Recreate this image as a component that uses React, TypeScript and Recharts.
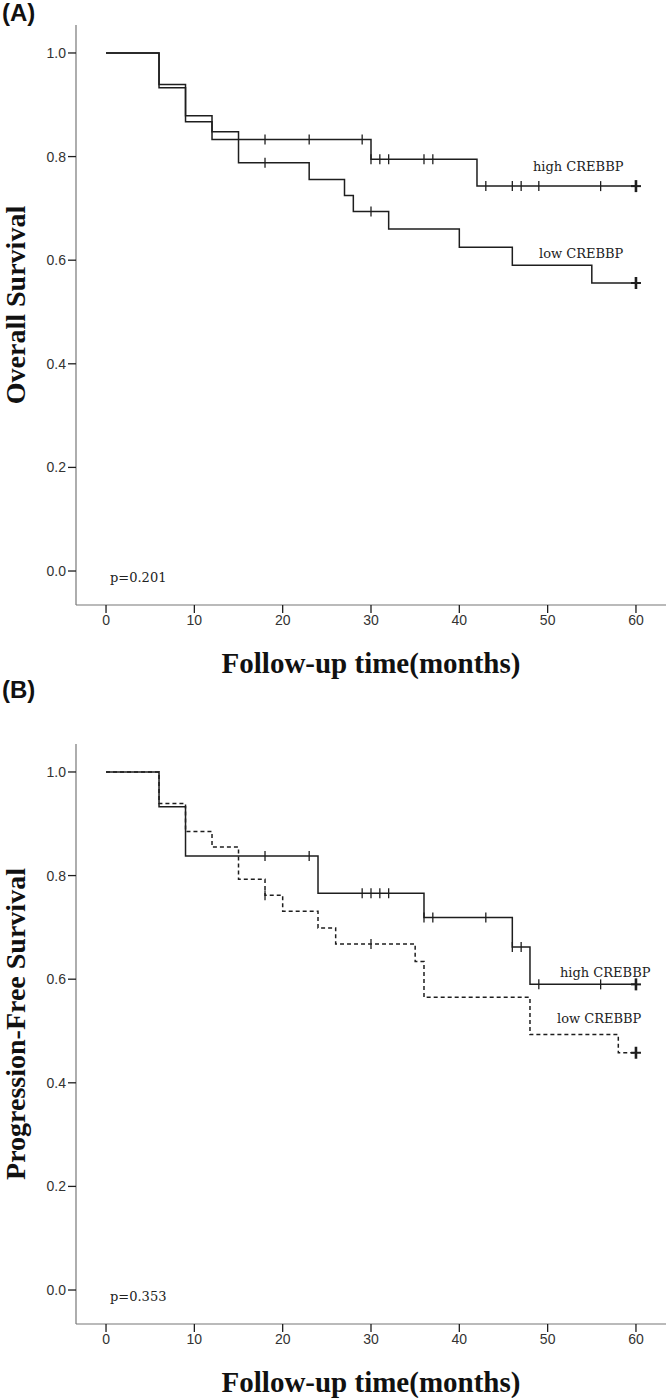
import React from "react";
import {
  ComposedChart,
  Line,
  Scatter,
  XAxis,
  YAxis,
} from "recharts";

// ---- data (months, survival proportion) ----
const X_TICKS = [0, 10, 20, 30, 40, 50, 60];
const Y_TICKS = [0, 0.2, 0.4, 0.6, 0.8, 1.0];
const END_MONTH = 60;

// (A) overall survival
const OS_HIGH_T = [0, 6, 9, 12, 30, 42];
const OS_HIGH_S = [1, 0.933, 0.867, 0.833, 0.795, 0.743];
const OS_HIGH_CENSOR = [18, 23, 29, 30, 31, 32, 36, 37, 43, 46, 47, 49, 56, 60, 60, 60];

const OS_LOW_T = [0, 6, 9, 12, 15, 23, 27, 28, 32, 40, 46, 55];
const OS_LOW_S = [1, 0.939, 0.879, 0.848, 0.788, 0.756, 0.725, 0.694, 0.66, 0.625, 0.59, 0.556];
const OS_LOW_CENSOR = [18, 30, 60, 60, 60];

// (B) progression-free survival
const PFS_HIGH_T = [0, 6, 9, 24, 36, 46, 48];
const PFS_HIGH_S = [1, 0.933, 0.838, 0.766, 0.719, 0.662, 0.59];
const PFS_HIGH_CENSOR = [18, 23, 29, 30, 31, 32, 36, 37, 43, 46, 47, 49, 56, 60, 60, 60];

const PFS_LOW_T = [0, 6, 9, 12, 15, 18, 20, 24, 26, 35, 36, 48, 58];
const PFS_LOW_S = [1, 0.939, 0.885, 0.855, 0.793, 0.762, 0.731, 0.699, 0.668, 0.634, 0.565, 0.493, 0.458];
const PFS_LOW_CENSOR = [18, 30, 60, 60, 60];

const INK = "#1e1e1e";
const SERIF = "'Liberation Serif', 'Times New Roman', serif";
const SLAB = "'DejaVu Serif', serif";
const SANS = "'Liberation Sans', Arial, sans-serif";

function stepAt(ts: number[], ss: number[], t: number) {
  let v = ss[0];
  ts.forEach((x, i) => {
    if (x <= t) v = ss[i];
  });
  return v;
}

function curve(ts: number[], ss: number[]) {
  const pts = ts.map((t, i) => ({ t, s: ss[i] }));
  pts.push({ t: END_MONTH, s: ss[ss.length - 1] });
  return pts;
}

function censors(ts: number[], ss: number[], times: number[]) {
  const counts = new Map<number, number>();
  times.forEach((t) => counts.set(t, (counts.get(t) ?? 0) + 1));
  return Array.from(counts.entries()).map(([t, n]) => ({ t, s: stepAt(ts, ss, t), n }));
}

const CensorMark = (props: any) => {
  const { cx, cy, payload } = props;
  if (cx == null || cy == null) return null;
  const heavy = payload.n > 1;
  const h = heavy ? 6 : 5;
  return (
    <g>
      <line x1={cx} x2={cx} y1={cy - h} y2={cy + h} stroke={INK} strokeWidth={heavy ? 2.6 : 1.3} />
      {heavy && <line x1={cx - 5} x2={cx + 5} y1={cy} y2={cy} stroke={INK} strokeWidth={2} />}
    </g>
  );
};

interface PanelProps {
  tag: string;
  tagY: number;
  yLabel: string;
  pText: string;
  high: { t: number[]; s: number[]; c: number[] };
  low: { t: number[]; s: number[]; c: number[]; dashed?: boolean };
  highLabel: [number, number];
  lowLabel: [number, number];
}

function Panel({ tag, tagY, yLabel, pText, high, low, highLabel, lowLabel }: PanelProps) {
  return (
    <div style={{ position: "relative", width: 666, height: 719 }}>
      <ComposedChart
        width={666}
        height={719}
        margin={{ top: 25, right: 0, bottom: 84, left: 16 }}
      >
        <XAxis
          type="number"
          dataKey="t"
          domain={[-3.4, 63.4]}
          ticks={X_TICKS}
          allowDataOverflow
          height={30}
          tickSize={8}
          axisLine={{ stroke: "#777", strokeWidth: 1.2 }}
          tickLine={{ stroke: INK, strokeWidth: 1.3 }}
          tick={{ fill: "#333", fontSize: 14, fontFamily: SANS }}
        />
        <YAxis
          type="number"
          dataKey="s"
          domain={[-0.0656, 1.054]}
          ticks={Y_TICKS}
          allowDataOverflow
          width={60}
          tickSize={8}
          tickFormatter={(v: number) => v.toFixed(1)}
          axisLine={{ stroke: "#777", strokeWidth: 1.2 }}
          tickLine={{ stroke: INK, strokeWidth: 1.3 }}
          tick={{ fill: "#333", fontSize: 14, fontFamily: SANS }}
        />
        <Line
          data={curve(high.t, high.s)}
          dataKey="s"
          type="stepAfter"
          stroke={INK}
          strokeWidth={1.5}
          dot={false}
          activeDot={false}
          isAnimationActive={false}
        />
        <Line
          data={curve(low.t, low.s)}
          dataKey="s"
          type="stepAfter"
          stroke={INK}
          strokeWidth={1.5}
          strokeDasharray={low.dashed ? "4 3" : undefined}
          dot={false}
          activeDot={false}
          isAnimationActive={false}
        />
        <Scatter
          data={censors(high.t, high.s, high.c)}
          dataKey="s"
          shape={CensorMark}
          isAnimationActive={false}
        />
        <Scatter
          data={censors(low.t, low.s, low.c)}
          dataKey="s"
          shape={CensorMark}
          isAnimationActive={false}
        />
      </ComposedChart>
      <svg
        width={666}
        height={719}
        style={{ position: "absolute", left: 0, top: 0, pointerEvents: "none", overflow: "visible" }}
      >
        <text x={2} y={tagY} fontFamily={SANS} fontWeight="bold" fontSize={24} fill="#111">
          {tag}
        </text>
        <text
          x={15}
          y={305}
          transform="rotate(-90 15 305)"
          textAnchor="middle"
          dominantBaseline="central"
          fontFamily={SERIF}
          fontWeight="bold"
          fontSize={28}
          fill="#111"
        >
          {yLabel}
        </text>
        <text
          x={371}
          y={663}
          textAnchor="middle"
          dominantBaseline="central"
          fontFamily={SERIF}
          fontWeight="bold"
          fontSize={29}
          fill="#111"
        >
          Follow-up time(months)
        </text>
        <text x={110} y={582} fontFamily={SLAB} fontSize={13} fill="#222">
          {pText}
        </text>
        <text x={highLabel[0]} y={highLabel[1]} dominantBaseline="central" fontFamily={SLAB} fontSize={13} fill="#222">
          high CREBBP
        </text>
        <text x={lowLabel[0]} y={lowLabel[1]} dominantBaseline="central" fontFamily={SLAB} fontSize={13} fill="#222">
          low CREBBP
        </text>
      </svg>
    </div>
  );
}

export default function App() {
  return (
    <div
      style={{
        position: "absolute",
        left: 0,
        top: 0,
        width: 666,
        height: 1398,
        overflow: "hidden",
        background: "#fff",
      }}
    >
      <Panel
        tag="(A)"
        tagY={21}
        yLabel="Overall Survival"
        pText="p=0.201"
        high={{ t: OS_HIGH_T, s: OS_HIGH_S, c: OS_HIGH_CENSOR }}
        low={{ t: OS_LOW_T, s: OS_LOW_S, c: OS_LOW_CENSOR }}
        highLabel={[533, 166]}
        lowLabel={[539, 253]}
      />
      <div style={{ position: "absolute", left: 0, top: 719 }}>
        <Panel
          tag="(B)"
          tagY={-21}
          yLabel="Progression-Free Survival"
          pText="p=0.353"
          high={{ t: PFS_HIGH_T, s: PFS_HIGH_S, c: PFS_HIGH_CENSOR }}
          low={{ t: PFS_LOW_T, s: PFS_LOW_S, c: PFS_LOW_CENSOR, dashed: true }}
          highLabel={[560, 253]}
          lowLabel={[557, 299]}
        />
      </div>
    </div>
  );
}
